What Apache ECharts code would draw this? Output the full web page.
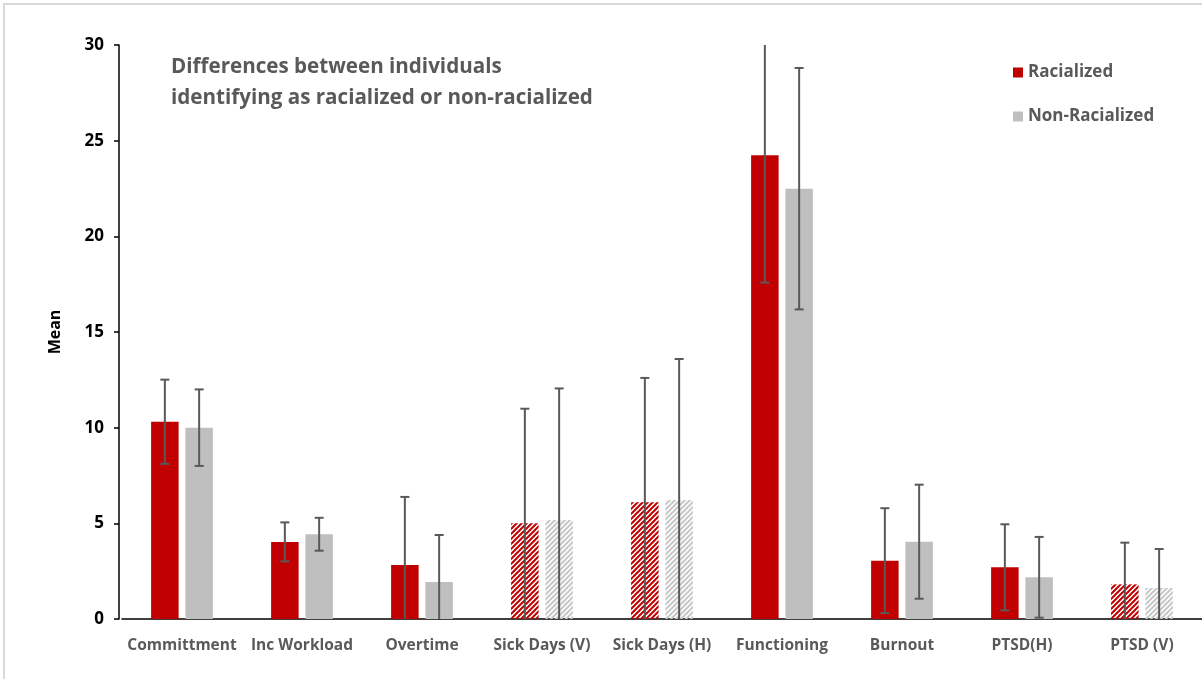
<!DOCTYPE html>
<html>
<head>
<meta charset="utf-8">
<script src="https://cdn.jsdelivr.net/npm/echarts@6/dist/echarts.min.js"></script>
<style>
  html, body { margin: 0; padding: 0; background: #ffffff; }
  #chart { width: 1202px; height: 679px; }
</style>
</head>
<body>
<div id="chart"></div>
<script>
// Measures compared between the two groups
const categories = ['Committment', 'Inc Workload', 'Overtime', 'Sick Days (V)', 'Sick Days (H)',
                    'Functioning', 'Burnout', 'PTSD(H)', 'PTSD (V)'];
const seriesNames = ['Racialized', 'Non-Racialized'];

// Group means
const racializedMean    = [10.31, 4.03, 2.82, 5.00, 6.10, 24.24, 3.05, 2.70, 1.81];
const nonRacializedMean = [10.00, 4.43, 1.93, 5.18, 6.22, 22.49, 4.04, 2.18, 1.62];

// Error bar half-widths
const racializedErr    = [2.20, 1.02, 3.56, 5.99, 6.50, 6.66, 2.74, 2.25, 2.18];
const nonRacializedErr = [2.00, 0.86, 2.46, 6.87, 7.37, 6.31, 2.98, 2.11, 2.04];

// Measures drawn with a striped fill
const stripedMeasure = [false, false, false, true, true, false, false, false, true];

// Y axis ticks
const yTicks = [0, 5, 10, 15, 20, 25, 30];

const RED = '#c00000';
const GREY = '#bfbfbf';
const TEXT_GREY = '#595959';
const BAR_WIDTH = 27.5;
const BAR_GAP = 6.8;
const FONT = '"Open Sans", "Liberation Sans", sans-serif';

function stripePattern(color) {
  const s = 5;
  const c = document.createElement('canvas');
  c.width = s; c.height = s;
  const ctx = c.getContext('2d');
  ctx.strokeStyle = color;
  ctx.lineWidth = 2;
  ctx.beginPath();
  for (const k of [-s, 0, s]) {
    ctx.moveTo(k - 1, s + 1);
    ctx.lineTo(k + s + 1, -1);
  }
  ctx.stroke();
  return { image: c, repeat: 'repeat' };
}

function barData(means, color, stripeColor) {
  return means.map((v, i) => stripedMeasure[i]
    ? { value: v, itemStyle: { color: stripePattern(stripeColor) } }
    : { value: v, itemStyle: { color: color } });
}

function errorData(means, errs) {
  return means.map((m, i) => [i, m, errs[i]]);
}

const yMin = yTicks[0];
const yMax = yTicks[yTicks.length - 1];

function errorSeries(name, means, errs, side) {
  return {
    type: 'custom',
    name: name + ' error',
    z: 5,
    clip: true,
    encode: { x: 0, y: 1 },
    data: errorData(means, errs),
    renderItem: function (params, api) {
      const idx = api.value(0);
      const mean = api.value(1);
      const err = api.value(2);
      const hi = mean + err;
      const lo = mean - err;
      const dx = side * (BAR_WIDTH + BAR_GAP) / 2;
      const top = api.coord([idx, Math.min(hi, yMax)]);
      const bot = api.coord([idx, Math.max(lo, yMin)]);
      const x = top[0] + dx;
      const style = { stroke: '#595959', lineWidth: 2 };
      const children = [{
        type: 'line',
        shape: { x1: x, y1: top[1], x2: x, y2: bot[1] },
        style: style
      }];
      const cap = 4.5;
      if (hi <= yMax) {
        children.push({ type: 'line', shape: { x1: x - cap, y1: top[1], x2: x + cap, y2: top[1] }, style: style });
      }
      if (lo >= yMin) {
        children.push({ type: 'line', shape: { x1: x - cap, y1: bot[1], x2: x + cap, y2: bot[1] }, style: style });
      }
      return { type: 'group', children: children };
    }
  };
}

const chart = echarts.init(document.getElementById('chart'));

chart.setOption({
  animation: false,
  backgroundColor: '#ffffff',
  textStyle: { fontFamily: FONT },
  title: {
    text: 'Differences between individuals\nidentifying as racialized or non-racialized',
    left: 166,
    top: 47,
    textStyle: {
      color: TEXT_GREY,
      fontSize: 20.6,
      fontWeight: 'bold',
      fontFamily: FONT,
      lineHeight: 31
    }
  },
  legend: {
    orient: 'vertical',
    left: 1008,
    top: 59,
    itemWidth: 10,
    itemHeight: 10,
    itemGap: 27,
    icon: 'rect',
    data: seriesNames,
    textStyle: { color: TEXT_GREY, fontSize: 17, fontWeight: 'bold', fontFamily: FONT }
  },
  graphic: [{
    type: 'rect',
    silent: true,
    z: -10,
    shape: { x: 4, y: 4, width: 1400, height: 900 },
    style: { fill: 'none', stroke: '#d9d9d9', lineWidth: 2 }
  }],
  grid: { left: 122, top: 45, bottom: 60, width: 9 * 120.5, containLabel: false },
  xAxis: {
    type: 'category',
    data: categories,
    axisLine: { lineStyle: { color: '#000000', width: 1.5 } },
    axisTick: { show: false },
    axisLabel: { color: TEXT_GREY, fontSize: 15.5, fontWeight: 'bold', margin: 19, interval: 0 }
  },
  yAxis: {
    type: 'value',
    min: yMin,
    max: yMax,
    interval: yTicks[1] - yTicks[0],
    offset: 3,
    name: 'Mean',
    nameLocation: 'middle',
    nameGap: 56,
    nameTextStyle: { color: '#000000', fontSize: 16, fontWeight: 'bold' },
    splitLine: { show: false },
    axisLine: { show: true, lineStyle: { color: '#000000', width: 1.5 } },
    axisTick: { show: true, length: 5, lineStyle: { color: '#000000', width: 1.5 } },
    axisLabel: { color: '#000000', fontSize: 17, fontWeight: 'bold', margin: 15 }
  },
  series: [
    {
      type: 'bar',
      name: seriesNames[0],
      itemStyle: { color: RED },
      barWidth: BAR_WIDTH,
      barGap: (BAR_GAP / BAR_WIDTH * 100).toFixed(1) + '%',
      data: barData(racializedMean, RED, RED)
    },
    {
      type: 'bar',
      name: seriesNames[1],
      itemStyle: { color: GREY },
      barWidth: BAR_WIDTH,
      data: barData(nonRacializedMean, GREY, '#c8c8c8')
    },
    errorSeries(seriesNames[0], racializedMean, racializedErr, -1),
    errorSeries(seriesNames[1], nonRacializedMean, nonRacializedErr, 1)
  ]
});
</script>
</body>
</html>
